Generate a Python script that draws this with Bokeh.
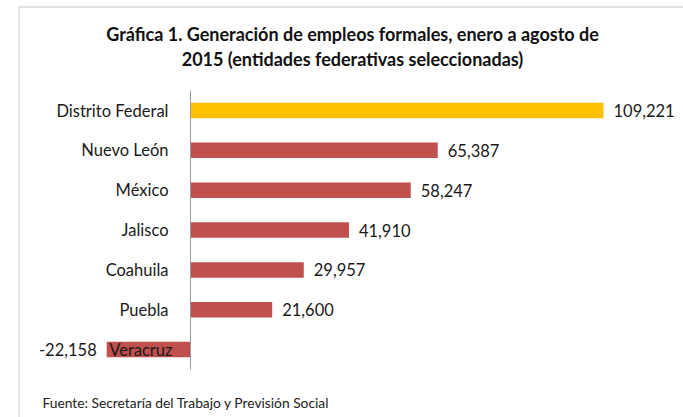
from bokeh.plotting import figure
from bokeh.models import ColumnDataSource, Range1d, Label, BoxAnnotation
from bokeh.core.properties import value
from bokeh.embed import file_html
from bokeh.resources import INLINE

# ---- data ----
entidades = ["Distrito Federal", "Nuevo León", "México", "Jalisco", "Coahuila", "Puebla", "Veracruz"]
empleos = [109221, 65387, 58247, 41910, 29957, 21600, -22158]
colores = ["#FFC000", "#C0504D", "#C0504D", "#C0504D", "#C0504D", "#C0504D", "#C0504D"]
titulo = ["Gráfica 1. Generación de empleos formales, enero a agosto de",
          "2015 (entidades federativas seleccionadas)"]
fuente = "Fuente: Secretaría del Trabajo y Previsión Social"

W, H = 683, 417
FONT = "Lato"

# layout (pixels within figure)
x0_px = 190.0          # where value 0 sits
xmax_px = 603.0        # where max value ends
row0_px = 110.0        # center of first row from top
row_step = 39.85

vmax = max(empleos)
k = (xmax_px - x0_px) / vmax
x_start = -x0_px / k
x_end = (W - x0_px) / k
y_top = -row0_px / row_step
y_bottom = (H - row0_px) / row_step

p = figure(width=W, height=H, output_backend="svg", toolbar_location=None,
           x_range=Range1d(x_start, x_end), y_range=Range1d(y_bottom, y_top),
           min_border=0, min_border_left=0, min_border_right=0,
           min_border_top=0, min_border_bottom=0)
p.axis.visible = False
p.grid.visible = False
p.outline_line_color = None
p.background_fill_color = "white"
p.border_fill_color = "white"

n = len(entidades)
idx = list(range(n))
src = ColumnDataSource(dict(
    y=idx, v=empleos, color=colores, name=entidades,
    lbl=[f"{e:,}" for e in empleos],
    lx=[e for e in empleos],
    loff=[10 if e >= 0 else -10 for e in empleos],
    lalign=["left" if e >= 0 else "right" for e in empleos],
    coff=[-22 if e >= 0 else -18 for e in empleos],
))

p.hbar(y="y", left=0, right="v", height=0.39, fill_color="color",
       line_color=None, source=src)

# vertical axis line at zero
p.segment(x0=0, y0=-0.5, x1=0, y1=n - 0.5, line_color="#9a9a9a", line_width=1)

# category labels
p.text(x=0, y="y", text="name", x_offset="coff", text_align="right",
       text_baseline="middle", text_font=value(FONT), text_font_size="16.5px",
       text_color="#1a1a1a", source=src)

# value labels
p.text(x="lx", y="y", text="lbl", x_offset="loff", text_align="lalign",
       text_baseline="middle", text_font=value(FONT), text_font_size="16.5px",
       text_color="#1a1a1a", source=src)

# chart border (screen units)
p.add_layout(BoxAnnotation(left=18.5, right=W + 50, top=H - 6.5, bottom=-50,
                           left_units="screen", right_units="screen",
                           top_units="screen", bottom_units="screen",
                           fill_alpha=0, line_color="#888888", line_width=1.5))

# title
for j, t in enumerate(titulo):
    p.add_layout(Label(x=352, y=H - 33 - 25 * j, x_units="screen", y_units="screen",
                       text=t, text_align="center", text_baseline="middle",
                       text_font=FONT, text_font_style="bold",
                       text_font_size="18px", text_color="#111111"))

# source note
p.add_layout(Label(x=42, y=H - 402, x_units="screen", y_units="screen",
                   text=fuente, text_align="left", text_baseline="middle",
                   text_font=FONT, text_font_size="13.8px", text_color="#222222"))

open("out.html", "w").write(file_html(p, INLINE))
